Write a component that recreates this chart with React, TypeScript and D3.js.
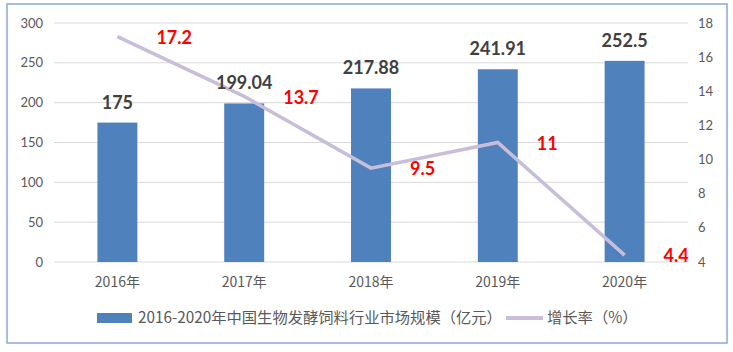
import React from "react";
import * as d3 from "d3";

const categories = ["2016年", "2017年", "2018年", "2019年", "2020年"];
const marketSize = [175, 199.04, 217.88, 241.91, 252.5];
const marketLabels = ["175", "199.04", "217.88", "241.91", "252.5"];
const growthRate = [17.2, 13.7, 9.5, 11, 4.4];
const leftTicks = [0, 50, 100, 150, 200, 250, 300];
const rightTicks = [4, 6, 8, 10, 12, 14, 16, 18];
const barLegend = "2016-2020年中国生物发酵饲料行业市场规模（亿元）";
const lineLegend = "增长率（%）";

const W = 733;
const H = 352;
const plot = { left: 54, right: 688, top: 23, bottom: 262 };
const FONT = "Lato, 'Noto Sans CJK SC', sans-serif";
const CJK = "'Noto Sans CJK SC', sans-serif";

export default function App() {
  const x = d3.scaleBand<string>().domain(categories).range([plot.left, plot.right]);
  const yL = d3.scaleLinear().domain([0, 300]).range([plot.bottom, plot.top]);
  const yR = d3.scaleLinear().domain([4, 18]).range([plot.bottom, plot.top]);
  const bw = x.bandwidth() * 0.315;
  const cx = (c: string) => (x(c) as number) + x.bandwidth() / 2;

  const line = d3
    .line<number>()
    .x((_, i) => cx(categories[i]))
    .y((d) => yR(d));

  return (
    <div style={{ position: "absolute", left: 0, top: 0 }}>
      <svg width={W} height={H} style={{ display: "block" }}>
        <rect x={0} y={0} width={W} height={H} fill="#fff" />
        <rect x={7} y={4} width={720} height={339} fill="#fff" stroke="#8FA8D4" strokeWidth={1.5} />
        {leftTicks.map((t) => (
          <line key={t} x1={plot.left} x2={plot.right} y1={yL(t)} y2={yL(t)} stroke="#D9D9D9" strokeWidth={1} />
        ))}
        {leftTicks.map((t) => (
          <text key={t} x={43} y={yL(t)} dy="0.35em" textAnchor="end" fontFamily={FONT} fontSize={13} fill="#595959">
            {t}
          </text>
        ))}
        {rightTicks.map((t) => (
          <text key={t} x={698} y={yR(t)} dy="0.35em" textAnchor="start" fontFamily={FONT} fontSize={13} fill="#595959">
            {t}
          </text>
        ))}
        {categories.map((c) => (
          <text key={c} x={cx(c)} y={282} dy="0.35em" textAnchor="middle" fontFamily={CJK} fontSize={14} fill="#595959">
            {c}
          </text>
        ))}
        {marketSize.map((v, i) => (
          <rect key={i} x={cx(categories[i]) - bw / 2} y={yL(v)} width={bw} height={yL(0) - yL(v)} fill="#4F81BD" />
        ))}
        <path d={line(growthRate) || ""} fill="none" stroke="#C8BEDA" strokeWidth={3.5} />
        {marketSize.map((v, i) => (
          <text
            key={i}
            x={cx(categories[i])}
            y={yL(v) - 14}
            textAnchor="middle"
            fontFamily={FONT}
            fontWeight="bold"
            fontSize={18}
            fill="#404040"
          >
            {marketLabels[i]}
          </text>
        ))}
        {growthRate.map((v, i) => (
          <text
            key={i}
            x={cx(categories[i]) + 39}
            y={yR(v) + 1}
            dy="0.35em"
            textAnchor="start"
            fontFamily={FONT}
            fontWeight="bold"
            fontSize={18}
            fill="#FF0000"
          >
            {v}
          </text>
        ))}
        <rect x={97} y={313} width={35} height={10} fill="#4F81BD" />
        <text x={138} y={318} dy="0.35em" fontFamily={CJK} fontSize={15.3} fill="#595959">
          {barLegend}
        </text>
        <line x1={506} x2={543} y1={318} y2={318} stroke="#C8BEDA" strokeWidth={4} />
        <text x={547} y={318} dy="0.35em" fontFamily={CJK} fontSize={15.3} fill="#595959">
          {lineLegend}
        </text>
      </svg>
    </div>
  );
}
